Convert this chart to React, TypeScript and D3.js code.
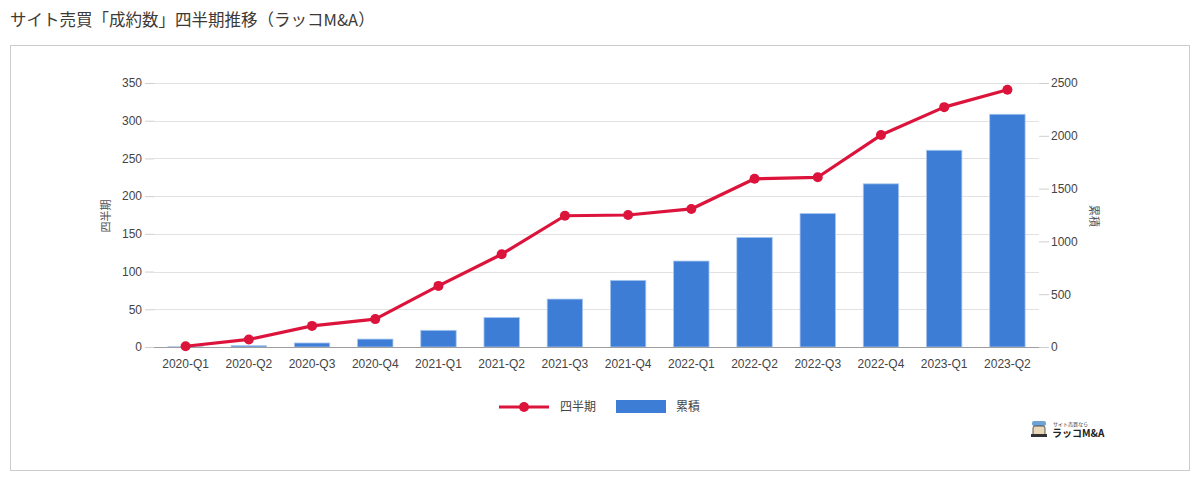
import React, { useEffect, useRef } from 'react';
import * as d3 from 'd3';

const quarters = [
  '2020-Q1', '2020-Q2', '2020-Q3', '2020-Q4',
  '2021-Q1', '2021-Q2', '2021-Q3', '2021-Q4',
  '2022-Q1', '2022-Q2', '2022-Q3', '2022-Q4',
  '2023-Q1', '2023-Q2',
];
// 四半期 (left axis, line)
const quarterly = [1, 10, 28, 37, 81, 123, 174, 175, 183, 223, 225, 281, 318, 341];
// 累積 (right axis, bars)
const cumulative = [2, 12, 38, 75, 158, 279, 454, 631, 814, 1038, 1264, 1545, 1863, 2204];
const leftTicks = [0, 50, 100, 150, 200, 250, 300, 350];
const rightTicks = [0, 500, 1000, 1500, 2000, 2500];

const TITLE = 'サイト売買「成約数」四半期推移（ラッコM&A）';
const LINE_COLOR = '#dc143c';
const BAR_COLOR = '#3e7dd6';
const FONT = 'Arial, "Liberation Sans", "Noto Sans CJK JP", sans-serif';

export default function App() {
  const svgRef = useRef<SVGSVGElement>(null);
  const width = 1200;
  const height = 480;

  useEffect(() => {
    if (!svgRef.current) return;
    const svg = d3.select(svgRef.current);
    svg.selectAll('*').remove();

    const plot = { left: 154, right: 1039, top: 83, bottom: 347 };

    // title
    svg.append('text')
      .attr('x', 10)
      .attr('y', 26)
      .attr('font-family', '"Noto Sans CJK JP", "Noto Sans", sans-serif')
      .attr('font-size', 16.5)
      .attr('fill', '#3d3a36')
      .text(TITLE);

    // frame
    svg.append('rect')
      .attr('x', 10.5).attr('y', 45.5)
      .attr('width', 1179).attr('height', 425)
      .attr('fill', '#fff')
      .attr('stroke', '#cccccc');

    const x = d3.scaleBand<string>()
      .domain(quarters)
      .range([plot.left, plot.right])
      .paddingInner(0.44)
      .paddingOuter(0.22);

    const yL = d3.scaleLinear().domain([0, 350]).range([plot.bottom, plot.top]);
    const yR = d3.scaleLinear().domain([0, 2500]).range([plot.bottom, plot.top]);

    // gridlines
    svg.append('g')
      .selectAll('line')
      .data(leftTicks.slice(1))
      .join('line')
      .attr('x1', plot.left).attr('x2', plot.right)
      .attr('y1', d => Math.round(yL(d)) + 0.5)
      .attr('y2', d => Math.round(yL(d)) + 0.5)
      .attr('stroke', '#e2e2e2');

    // left axis
    const axL = svg.append('g')
      .attr('transform', `translate(${plot.left},0)`)
      .call(d3.axisLeft(yL).tickValues(leftTicks).tickSize(9).tickPadding(3).tickFormat(d3.format('d')));
    axL.select('.domain').remove();
    axL.selectAll('line').attr('stroke', '#cfcfcf');
    axL.selectAll('text')
      .attr('font-family', FONT).attr('font-size', 12).attr('fill', '#444');

    // right axis
    const axR = svg.append('g')
      .attr('transform', `translate(${plot.right},0)`)
      .call(d3.axisRight(yR).tickValues(rightTicks).tickSize(10).tickPadding(2).tickFormat(d3.format('d')));
    axR.select('.domain').remove();
    axR.selectAll('line').attr('stroke', '#cfcfcf');
    axR.selectAll('text')
      .attr('font-family', FONT).attr('font-size', 12).attr('fill', '#444');

    // bars
    svg.append('g')
      .selectAll('rect')
      .data(cumulative)
      .join('rect')
      .attr('x', (_, i) => x(quarters[i])!)
      .attr('width', x.bandwidth())
      .attr('y', d => yR(d))
      .attr('height', d => plot.bottom - yR(d))
      .attr('fill', BAR_COLOR)
      .attr('stroke', '#a9c6ee')
      .attr('stroke-width', 0.8);

    // baseline
    svg.append('line')
      .attr('x1', plot.left).attr('x2', plot.right)
      .attr('y1', plot.bottom + 0.5).attr('y2', plot.bottom + 0.5)
      .attr('stroke', '#9e9e9e');

    // x labels
    svg.append('g')
      .selectAll('text')
      .data(quarters)
      .join('text')
      .attr('x', d => x(d)! + x.bandwidth() / 2)
      .attr('y', 368)
      .attr('text-anchor', 'middle')
      .attr('font-family', FONT)
      .attr('font-size', 12)
      .attr('fill', '#444')
      .text(d => d);

    // line
    const line = d3.line<number>()
      .x((_, i) => x(quarters[i])! + x.bandwidth() / 2)
      .y(d => yL(d));

    svg.append('path')
      .datum(quarterly)
      .attr('fill', 'none')
      .attr('stroke', LINE_COLOR)
      .attr('stroke-width', 3.2)
      .attr('stroke-linejoin', 'round')
      .attr('d', line);

    svg.append('g')
      .selectAll('circle')
      .data(quarterly)
      .join('circle')
      .attr('cx', (_, i) => x(quarters[i])! + x.bandwidth() / 2)
      .attr('cy', d => yL(d))
      .attr('r', 5)
      .attr('fill', LINE_COLOR);

    // axis titles
    svg.append('text')
      .attr('transform', 'translate(110,216) rotate(-90)')
      .attr('text-anchor', 'middle')
      .attr('font-family', '"Noto Sans CJK JP", sans-serif')
      .attr('font-size', 11)
      .attr('fill', '#555')
      .text('四半期');

    svg.append('text')
      .attr('transform', 'translate(1090,216) rotate(90)')
      .attr('text-anchor', 'middle')
      .attr('font-family', '"Noto Sans CJK JP", sans-serif')
      .attr('font-size', 11)
      .attr('fill', '#555')
      .text('累積');

    // legend
    const lg = svg.append('g');
    lg.append('line')
      .attr('x1', 499).attr('x2', 549).attr('y1', 407).attr('y2', 407)
      .attr('stroke', LINE_COLOR).attr('stroke-width', 3);
    lg.append('circle').attr('cx', 524).attr('cy', 407).attr('r', 5).attr('fill', LINE_COLOR);
    lg.append('text')
      .attr('x', 560).attr('y', 411)
      .attr('font-family', '"Noto Sans CJK JP", sans-serif')
      .attr('font-size', 12).attr('fill', '#444')
      .text('四半期');
    lg.append('rect')
      .attr('x', 616).attr('y', 400).attr('width', 50).attr('height', 13)
      .attr('fill', BAR_COLOR);
    lg.append('text')
      .attr('x', 676).attr('y', 411)
      .attr('font-family', '"Noto Sans CJK JP", sans-serif')
      .attr('font-size', 12).attr('fill', '#444')
      .text('累積');

    // logo
    const logo = svg.append('g').attr('transform', 'translate(1031,421)');
    logo.append('rect').attr('x', 1).attr('y', 0).attr('width', 14).attr('height', 5)
      .attr('rx', 2).attr('fill', '#6fa3d8');
    logo.append('rect').attr('x', 2).attr('y', 5).attr('width', 12).attr('height', 10)
      .attr('rx', 2).attr('fill', '#e9d9b8').attr('stroke', '#333').attr('stroke-width', 0.8);
    logo.append('rect').attr('x', 0).attr('y', 13).attr('width', 16).attr('height', 3)
      .attr('fill', '#333');
    logo.append('text')
      .attr('x', 22).attr('y', 5)
      .attr('font-family', '"Noto Sans CJK JP", sans-serif')
      .attr('font-size', 5).attr('fill', '#333')
      .text('サイト売買なら');
    logo.append('text')
      .attr('x', 21).attr('y', 16)
      .attr('font-family', '"Noto Sans CJK JP", sans-serif')
      .attr('font-size', 10).attr('font-weight', 'bold').attr('fill', '#222')
      .text('ラッコM&A');
  }, []);

  return (
    <div style={{ position: 'absolute', left: 0, top: 0, background: '#fff' }}>
      <svg ref={svgRef} width={width} height={height} />
    </div>
  );
}
